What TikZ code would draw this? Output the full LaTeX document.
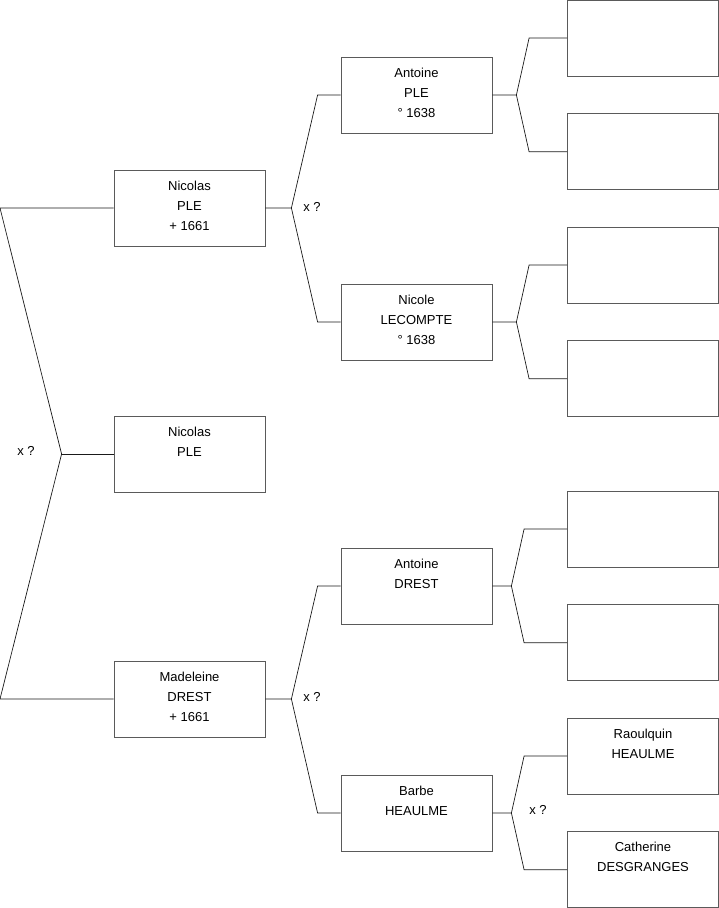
\documentclass[tikz,border=0pt]{standalone}
\usepackage{fontspec}
\setmainfont{Liberation Sans}
\usetikzlibrary{positioning,calc}
\definecolor{ink}{HTML}{1A1A1A}
\definecolor{boxline}{HTML}{5A5A5A}
\newcommand{\who}[1]{\parbox[t]{151pt}{\centering #1}}
\tikzset{
  every node/.style={font=\fontsize{13}{20}\selectfont},
  person/.style={draw=boxline, line width=0.8pt, minimum width=151pt, minimum height=76pt, inner sep=0pt, text height=20pt, text depth=56pt},
  link/.style={draw=ink, line width=0.7pt},
  union/.style={font=\fontsize{13}{15}\selectfont, inner sep=0pt},
}

\begin{document}
\begin{tikzpicture}[x=1pt,y=-1pt]
\useasboundingbox (0,0) rectangle (719,908);
\coordinate (edge) at (0,0);
% generation 1
\node[person] (n1) at (189.5,208) {\who{Nicolas\\PLE\\+ 1661}};
\node[person] (n2) at (189.5,454) {\who{Nicolas\\PLE}};
\node[person] (n3) at (189.5,699) {\who{Madeleine\\DREST\\+ 1661}};
% generation 2
\node[person] (a1) at (416.5,95) {\who{Antoine\\PLE\\° 1638}};
\node[person] (a2) at (416.5,322) {\who{Nicole\\LECOMPTE\\° 1638}};
\node[person] (a3) at (416.5,586) {\who{Antoine\\DREST}};
\node[person] (a4) at (416.5,813) {\who{Barbe\\HEAULME}};
% generation 3
\node[person] (g1) at (643,38) {};
\node[person, below=37pt of g1] (g2) {};
\node[person] (g3) at (643,265) {};
\node[person, below=37pt of g3] (g4) {};
\node[person] (g5) at (643,529) {};
\node[person, below=37pt of g5] (g6) {};
\node[person] (g7) at (643,756) {\who{Raoulquin\\HEAULME}};
\node[person, below=37pt of g7] (g8) {\who{Catherine\\DESGRANGES}};
% unions
\node[union] (x0) at (26,451) {x ?};
\node[union] (x1) at (312,207) {x ?};
\node[union] (x2) at (312,697) {x ?};
\node[union] (x3) at (538,810) {x ?};
% forks
\coordinate (jr) at ([xshift=-52pt]n2.west);
\draw[link] (n1.west) -- (n1.west -| edge) -- (jr) -- (n3.west -| edge) -- (n3.west);
\draw[link] (jr) -- (n2.west);
\coordinate (j1) at ([xshift=26pt]n1.east);
\draw[link] (n1.east) -- (j1) -- ([xshift=-23pt]a1.west) -- (a1.west);
\draw[link] (j1) -- ([xshift=-23pt]a2.west) -- (a2.west);
\coordinate (j2) at ([xshift=26pt]n3.east);
\draw[link] (n3.east) -- (j2) -- ([xshift=-23pt]a3.west) -- (a3.west);
\draw[link] (j2) -- ([xshift=-23pt]a4.west) -- (a4.west);
\coordinate (k1) at ([xshift=24pt]a1.east);
\draw[link] (a1.east) -- (k1) -- ([xshift=-38pt]g1.west) -- (g1.west);
\draw[link] (k1) -- ([xshift=-38pt]g2.west) -- (g2.west);
\coordinate (k2) at ([xshift=24pt]a2.east);
\draw[link] (a2.east) -- (k2) -- ([xshift=-38pt]g3.west) -- (g3.west);
\draw[link] (k2) -- ([xshift=-38pt]g4.west) -- (g4.west);
\coordinate (k3) at ([xshift=19pt]a3.east);
\draw[link] (a3.east) -- (k3) -- ([xshift=-43pt]g5.west) -- (g5.west);
\draw[link] (k3) -- ([xshift=-43pt]g6.west) -- (g6.west);
\coordinate (k4) at ([xshift=19pt]a4.east);
\draw[link] (a4.east) -- (k4) -- ([xshift=-43pt]g7.west) -- (g7.west);
\draw[link] (k4) -- ([xshift=-43pt]g8.west) -- (g8.west);
\end{tikzpicture}
\end{document}
